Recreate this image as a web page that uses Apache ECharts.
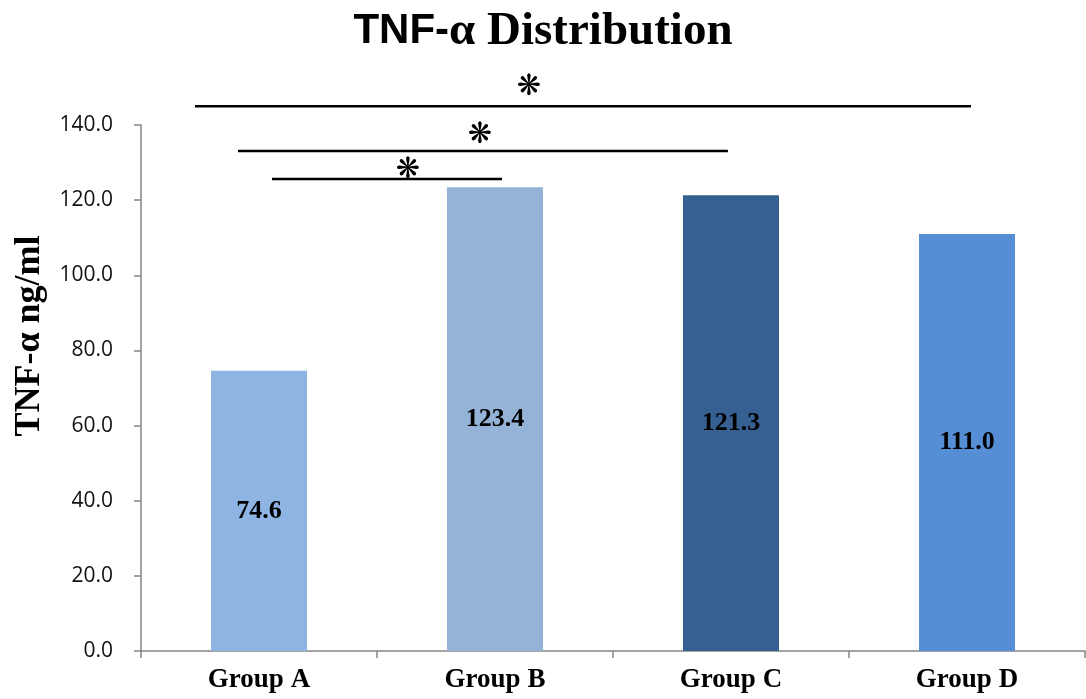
<!DOCTYPE html>
<html>
<head>
<meta charset="utf-8">
<script src="https://cdn.jsdelivr.net/npm/echarts@6/dist/echarts.min.js"></script>
<style>
html,body{margin:0;padding:0;background:#fff;}
#chart{width:1086px;height:699px;}
</style>
</head>
<body>
<div id="chart"></div>
<script>
// ---- data ----
const categories = ['Group A', 'Group B', 'Group C', 'Group D'];
const values = [74.6, 123.4, 121.3, 111.0];
const yTicks = [0, 20, 40, 60, 80, 100, 120, 140];
// significance brackets: [start (category units), end (category units), y value]
const brackets = [
  [-0.271, 3.017, 145.0],
  [-0.089, 1.987, 133.1],
  [0.055, 1.030, 125.6]
];
// asterisk marks: [x (category units), y value]
const stars = [
  [1.144, 149.9],
  [0.936, 137.1],
  [0.631, 128.0]
];

const barColors = ['#8EB4E3', '#95B3D7', '#376092', '#558ED5'];
const serif = '"Liberation Serif", "Times New Roman", serif';

const chart = echarts.init(document.getElementById('chart'));
chart.setOption({
  animation: false,
  backgroundColor: '#fff',
  title: {
    text: '{a|TNF-}{b|α Distribution}',
    left: 'center',
    top: 3,
    textStyle: {
      rich: {
        a: { fontFamily: '"Liberation Sans", Arial, sans-serif', fontWeight: 'bold', fontSize: 42, color: '#000' },
        b: { fontFamily: serif, fontWeight: 'bold', fontSize: 47, color: '#000' }
      }
    }
  },
  graphic: [{
    type: 'text',
    x: 30, y: 336,
    rotation: Math.PI / 2,
    style: {
      text: 'TNF-α ng/ml',
      font: 'bold 36px ' + serif,
      fill: '#000',
      align: 'center',
      verticalAlign: 'middle'
    }
  }],
  grid: { left: 141, right: 1, top: 125, bottom: 48, containLabel: false },
  xAxis: [{
    type: 'category',
    data: categories,
    axisLine: { lineStyle: { color: '#868686', width: 1.5 } },
    axisTick: { show: true, length: 7, lineStyle: { color: '#868686', width: 1.5 } },
    axisLabel: { margin: 16, color: '#000', fontFamily: serif, fontWeight: 'bold', fontSize: 27 }
  }, {
    type: 'value', min: -0.5, max: 3.5, show: false
  }],
  yAxis: {
    type: 'value',
    min: yTicks[0], max: yTicks[yTicks.length - 1], interval: yTicks[1] - yTicks[0],
    splitLine: { show: false },
    axisLine: { show: true, onZero: false, lineStyle: { color: '#868686', width: 1.5 } },
    axisTick: { show: true, length: 7, lineStyle: { color: '#868686', width: 1.5 } },
    axisLabel: {
      margin: 28, color: '#111', fontFamily: '"Open Sans", sans-serif', fontSize: 21,
      formatter: v => v.toFixed(1)
    }
  },
  series: [{
    type: 'bar',
    barWidth: 96,
    data: values.map((v, i) => ({ value: v, itemStyle: { color: barColors[i] } })),
    label: {
      show: true, position: 'inside', color: '#000',
      fontFamily: serif, fontWeight: 'bold', fontSize: 26,
      formatter: p => p.value.toFixed(1)
    }
  }, {
    type: 'custom',
    xAxisIndex: 1,
    yAxisIndex: 0,
    clip: false,
    silent: true,
    data: brackets,
    encode: { x: [0, 1], y: 2 },
    renderItem: (params, api) => {
      const p1 = api.coord([api.value(0), api.value(2)]);
      const p2 = api.coord([api.value(1), api.value(2)]);
      return {
        type: 'line',
        shape: { x1: p1[0], y1: p1[1], x2: p2[0], y2: p2[1] },
        style: { stroke: '#000', lineWidth: 2.5 }
      };
    }
  }, {
    type: 'custom',
    xAxisIndex: 1,
    yAxisIndex: 0,
    clip: false,
    silent: true,
    data: stars,
    encode: { x: 0, y: 1 },
    renderItem: (params, api) => {
      const p = api.coord([api.value(0), api.value(1)]);
      return {
        type: 'text',
        x: p[0], y: p[1],
        style: {
          text: '❋', fill: '#000',
          font: 'bold 29px "DejaVu Sans", sans-serif',
          align: 'center', verticalAlign: 'middle'
        }
      };
    }
  }]
});
</script>
</body>
</html>
